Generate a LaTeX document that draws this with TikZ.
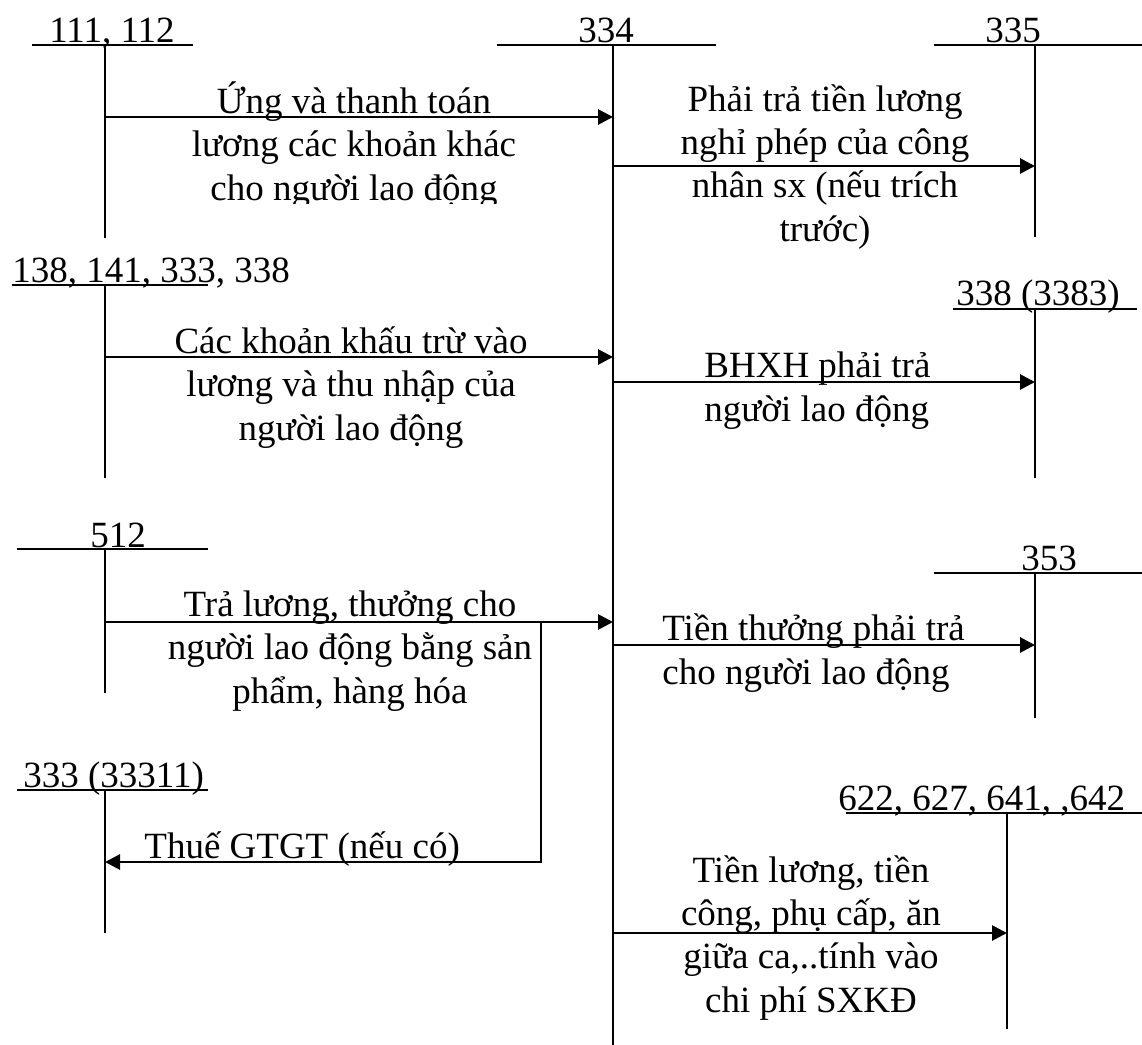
\documentclass[tikz,border=0pt]{standalone}
\usepackage{fontspec}
\setmainfont{Liberation Serif}
\usetikzlibrary{arrows.meta}
\begin{document}
\begin{tikzpicture}[x=0.5pt,y=-0.5pt,
  txt/.style={font=\fontsize{18.5}{21.6}\selectfont, inner sep=0pt, align=center},
  tline/.style={line width=1pt},
  mainline/.style={line width=1.3pt},
  flow/.style={line width=1.4pt, -{Triangle[length=7.5pt,width=7.5pt]}},
  plainflow/.style={line width=1.4pt}]
\useasboundingbox (0,0) rectangle (1142,1045);

% ---------- T-account coordinates ----------
% 111, 112
\coordinate (a111L) at (32,45);   \coordinate (a111R) at (193,45);
\coordinate (a111T) at (105,45);  \coordinate (a111B) at (105,238);
% 334
\coordinate (a334L) at (497,45);  \coordinate (a334R) at (716,45);
\coordinate (a334T) at (613,45);  \coordinate (a334B) at (613,1045);
% 335
\coordinate (a335L) at (934,45);  \coordinate (a335R) at (1142,45);
\coordinate (a335T) at (1035,45); \coordinate (a335B) at (1035,237);
% 138, 141, 333, 338
\coordinate (a138L) at (12,285);  \coordinate (a138R) at (208,285);
\coordinate (a138T) at (105,285); \coordinate (a138B) at (105,478);
% 338 (3383)
\coordinate (a338L) at (953,309); \coordinate (a338R) at (1137,309);
\coordinate (a338T) at (1035,309);\coordinate (a338B) at (1035,478);
% 512
\coordinate (a512L) at (17,549);  \coordinate (a512R) at (208,549);
\coordinate (a512T) at (105,549); \coordinate (a512B) at (105,693);
% 333 (33311)
\coordinate (a333L) at (17,790);  \coordinate (a333R) at (208,790);
\coordinate (a333T) at (105,790); \coordinate (a333B) at (105,933);
% 353
\coordinate (a353L) at (934,573); \coordinate (a353R) at (1142,573);
\coordinate (a353T) at (1035,573);\coordinate (a353B) at (1035,718);
% 622, 627, 641, 642
\coordinate (a622L) at (846,813); \coordinate (a622R) at (1142,813);
\coordinate (a622T) at (1007,813);\coordinate (a622B) at (1007,1029);

% ---------- T-account lines ----------
\draw[tline] (a111L) -- (a111R);  \draw[tline] (a111T) -- (a111B);
\draw[tline] (a334L) -- (a334R);  \draw[mainline] (a334T) -- (a334B);
\draw[tline] (a335L) -- (a335R);  \draw[tline] (a335T) -- (a335B);
\draw[tline] (a138L) -- (a138R);  \draw[tline] (a138T) -- (a138B);
\draw[tline] (a338L) -- (a338R);  \draw[tline] (a338T) -- (a338B);
\draw[tline] (a512L) -- (a512R);  \draw[tline] (a512T) -- (a512B);
\draw[tline] (a333L) -- (a333R);  \draw[tline] (a333T) -- (a333B);
\draw[tline] (a353L) -- (a353R);  \draw[tline] (a353T) -- (a353B);
\draw[tline] (a622L) -- (a622R);  \draw[tline] (a622T) -- (a622B);

% ---------- account labels ----------
\node[txt, anchor=base] (l111) at (112,42) {111, 112};
\node[txt, anchor=base] (l334) at (606,42) {334};
\node[txt, anchor=base] (l335) at (1013,42) {335};
\node[txt, anchor=base west] (l138) at (12,282) {138, 141, 333, 338};
\node[txt, anchor=base west] (l338) at (956,305) {338 (3383)};
\node[txt, anchor=base] (l512) at (118,547) {512};
\node[txt, anchor=base west] (l333) at (23,787) {333 (33311)};
\node[txt, anchor=base] (l353) at (1049,570) {353};
\node[txt, anchor=base west] (l622) at (838,810) {622, 627, 641, ,642};

% ---------- flow end points ----------
\coordinate (f1s) at (105,117);  \coordinate (f1e) at (613,117);
\coordinate (f2s) at (613,166);  \coordinate (f2e) at (1035,166);
\coordinate (f3s) at (105,357);  \coordinate (f3e) at (613,357);
\coordinate (f4s) at (613,382);  \coordinate (f4e) at (1035,382);
\coordinate (f5s) at (105,622);  \coordinate (f5e) at (613,622);
\coordinate (f5b) at (541,622);  \coordinate (f5c) at (541,862);
\coordinate (f7e) at (105,862);
\coordinate (f6s) at (613,645);  \coordinate (f6e) at (1035,645);
\coordinate (f8s) at (613,933);  \coordinate (f8e) at (1007,933);

% ---------- flows ----------
\draw[flow] (f1s) -- (f1e);
\draw[flow] (f2s) -- (f2e);
\draw[flow] (f3s) -- (f3e);
\draw[flow] (f4s) -- (f4e);
\draw[flow] (f5s) -- (f5e);
\draw[flow] (f5b) -- (f5c) -- (f7e);
\draw[flow] (f6s) -- (f6e);
\draw[flow] (f8s) -- (f8e);

% ---------- flow labels (anchor = baseline of last line) ----------
\begin{scope}
\clip (0,0) rectangle (1142,203);
\node[txt, anchor=base] (t1) at (354,200) {Ứng và thanh toán\\lương các khoản khác\\cho người lao động};
\end{scope}
\node[txt, anchor=base] (t2) at (825,241) {Phải trả tiền lương\\nghỉ phép của công\\nhân sx (nếu trích\\trước)};
\node[txt, anchor=base] (t3) at (351,440) {Các khoản khấu trừ vào\\lương và thu nhập của\\người lao động};
\node[txt, anchor=base west, align=left] (t4) at (704,421) {BHXH phải trả\\người lao động};
\node[txt, anchor=base] (t5) at (350,703) {Trả lương, thưởng cho\\người lao động bằng sản\\phẩm, hàng hóa};
\node[txt, anchor=base west, align=left] (t6) at (662,684) {Tiền thưởng phải trả\\cho người lao động};
\node[txt, anchor=base west] (t7) at (144,858) {Thuế GTGT (nếu có)};
\node[txt, anchor=base] (t8) at (811,1012) {Tiền lương, tiền\\công, phụ cấp, ăn\\giữa ca,..tính vào\\chi phí SXKĐ};
\end{tikzpicture}
\end{document}
